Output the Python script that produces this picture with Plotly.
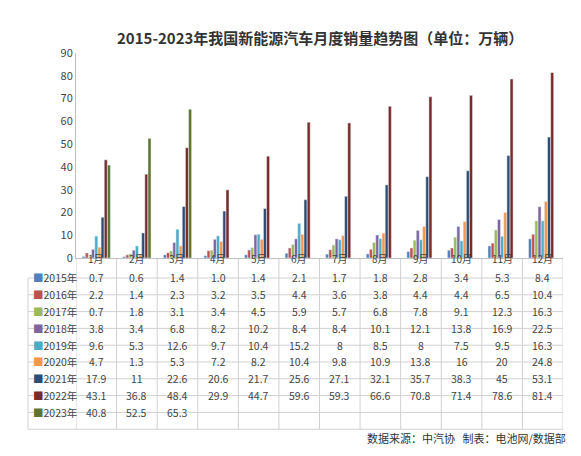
import plotly.graph_objects as go

months = ["1月","2月","3月","4月","5月","6月","7月","8月","9月","10月","11月","12月"]
years = ["2015年","2016年","2017年","2018年","2019年","2020年","2021年","2022年","2023年"]
v2015 = [0.7,0.6,1.4,1.0,1.4,2.1,1.7,1.8,2.8,3.4,5.3,8.4]
v2016 = [2.2,1.4,2.3,3.2,3.5,4.4,3.6,3.8,4.4,4.4,6.5,10.4]
v2017 = [0.7,1.8,3.1,3.4,4.5,5.9,5.7,6.8,7.8,9.1,12.3,16.3]
v2018 = [3.8,3.4,6.8,8.2,10.2,8.4,8.4,10.1,12.1,13.8,16.9,22.5]
v2019 = [9.6,5.3,12.6,9.7,10.4,15.2,8,8.5,8,7.5,9.5,16.3]
v2020 = [4.7,1.3,5.3,7.2,8.2,10.4,9.8,10.9,13.8,16,20,24.8]
v2021 = [17.9,11,22.6,20.6,21.7,25.6,27.1,32.1,35.7,38.3,45,53.1]
v2022 = [43.1,36.8,48.4,29.9,44.7,59.6,59.3,66.6,70.8,71.4,78.6,81.4]
v2023 = [40.8,52.5,65.3]
series = [v2015,v2016,v2017,v2018,v2019,v2020,v2021,v2022,v2023]
colors = ["#4F81BD","#C0504D","#9BBB59","#8064A2","#4BACC6","#F79646","#2C4D75","#772C2A","#5F7530"]

fig = go.Figure()
for y, vals, c in zip(years, series, colors):
    fig.add_bar(x=months[:len(vals)], y=vals, name=y, marker_color=c)

W, H, L, R, T, B = 581, 456, 68, 26, 45, 206
ph = H - T - B
pw = W - L - R
def py(pix): return (H - B - pix) / ph
def px(pix): return (pix - L) / pw

font = dict(family="Noto Sans CJK SC", size=10.5, color="#444")
shapes, ann = [], []
top, hdr_bot, rh = 251, 270, 16.8
nrows = len(years)
bottom = hdr_bot + rh * nrows
gl = dict(color="#D0D0D0", width=1)
for k in range(nrows + 1):
    yy = py(hdr_bot + k * rh)
    shapes.append(dict(type="line", xref="paper", yref="paper", x0=px(20), x1=1, y0=yy, y1=yy, line=gl))
for i in range(len(months) + 1):
    shapes.append(dict(type="line", xref="x", yref="paper", x0=i - 0.5, x1=i - 0.5, y0=py(top), y1=py(bottom), line=gl))
shapes.append(dict(type="line", xref="paper", yref="paper", x0=px(20), x1=px(20), y0=py(hdr_bot), y1=py(bottom), line=gl))
for i, m in enumerate(months):
    ann.append(dict(x=m, xref="x", y=py(259), yref="paper", borderpad=0,
                    text=m, showarrow=False, font=dict(family="Noto Sans CJK SC", size=10, color="#444")))
for k, (yname, vals, c) in enumerate(zip(years, series, colors)):
    yc = py(hdr_bot + (k + 0.5) * rh)
    ann.append(dict(x=px(24), xref="paper", y=yc, yref="paper", xanchor="left", borderpad=0,
                    text=f"<span style='color:{c}'>■</span>{yname}", showarrow=False, font=font))
    for m, v in zip(months, vals):
        ann.append(dict(x=m, xref="x", y=yc, yref="paper", text=str(v), borderpad=0, showarrow=False, font=font))
ann.append(dict(x=0.5, xref="paper", y=1, yref="paper", yshift=28, text="<b>2015-2023年我国新能源汽车月度销量趋势图（单位：万辆）</b>",
                showarrow=False, font=dict(family="Noto Sans CJK SC", size=15, color="#333")))
ann.append(dict(x=px(560), xref="paper", y=py(440), yref="paper", xanchor="right", text="数据来源：中汽协   制表：电池网/数据部",
                showarrow=False, font=dict(family="Noto Sans CJK SC", size=11, color="#333")))

fig.update_layout(
    width=W, height=H, margin=dict(l=L, r=R, t=T, b=B),
    paper_bgcolor="white", plot_bgcolor="white", showlegend=False,
    barmode="group", bargap=0.3, bargroupgap=0.05,
    shapes=shapes, annotations=ann,
    xaxis=dict(showticklabels=False, showline=True, linecolor="#BFBFBF", range=[-0.5, 11.5]),
    yaxis=dict(range=[0, 90], dtick=10, showgrid=False, showline=True, linecolor="#BFBFBF",
               ticks="", tickfont=dict(family="Noto Sans CJK SC", size=11, color="#444")),
)
fig.write_html("out.html")
